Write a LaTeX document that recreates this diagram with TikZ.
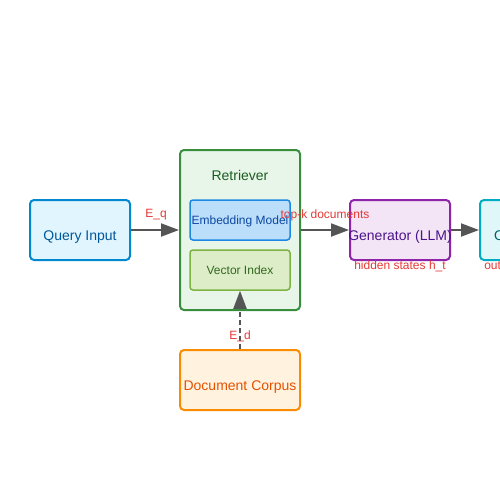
\documentclass[tikz,border=0pt]{standalone}
\usepackage{fontspec}
\setmainfont{Liberation Sans}
\definecolor{queryfill}{HTML}{E1F5FE}
\definecolor{querydraw}{HTML}{0288D1}
\definecolor{querytext}{HTML}{01579B}
\definecolor{retrfill}{HTML}{E8F5E9}
\definecolor{retrdraw}{HTML}{388E3C}
\definecolor{retrtext}{HTML}{1B5E20}
\definecolor{embfill}{HTML}{BBDEFB}
\definecolor{embdraw}{HTML}{1E88E5}
\definecolor{embtext}{HTML}{0D47A1}
\definecolor{vecfill}{HTML}{DCEDC8}
\definecolor{vecdraw}{HTML}{7CB342}
\definecolor{vectext}{HTML}{33691E}
\definecolor{corpfill}{HTML}{FFF3E0}
\definecolor{corpdraw}{HTML}{FB8C00}
\definecolor{corptext}{HTML}{E65100}
\definecolor{genfill}{HTML}{F3E5F5}
\definecolor{gendraw}{HTML}{8E24AA}
\definecolor{gentext}{HTML}{4A148C}
\definecolor{outfill}{HTML}{E0F7FA}
\definecolor{outdraw}{HTML}{00ACC1}
\definecolor{outtext}{HTML}{006064}
\definecolor{arrowgray}{HTML}{555555}
\definecolor{labelred}{HTML}{E53935}
\usetikzlibrary{arrows.meta, positioning}

\begin{document}
\begin{tikzpicture}[x=1pt, y=-1pt,
  box/.style={draw, line width=2pt, rounded corners=4pt, minimum width=100pt, minimum height=60pt,
    inner sep=0pt, text height=20pt, text depth=0pt, font=\fontsize{14}{16}\selectfont},
  subbox/.style={draw, line width=1.5pt, rounded corners=3pt, minimum width=100pt, minimum height=40pt,
    inner sep=0pt, text height=8.5pt, text depth=0pt, font=\fontsize{12}{14}\selectfont},
  flow/.style={draw=arrowgray, line width=2pt, -{Triangle[length=18pt, width=13pt]}},
  edgelabel/.style={text=labelred, inner sep=0pt, font=\fontsize{12}{14}\selectfont}]
  \clip (0,0) rectangle (500,500);
  \useasboundingbox (0,0) rectangle (500,500);

  % Retriever with its two parts
  \node[box, draw=retrdraw, fill=retrfill, minimum width=120pt, minimum height=160pt] (retriever) at (240,230) {};
  \node[text=retrtext, font=\fontsize{14}{16}\selectfont] (retrtitle) at (240,175) {Retriever};
  \node[subbox, draw=embdraw, fill=embfill, text=embtext] (embed) at (240,220) {\makebox[0pt]{Embedding Model}};
  \node[subbox, draw=vecdraw, fill=vecfill, text=vectext] (vindex) at (240,270) {Vector Index};

  % Other blocks
  \node[box, draw=querydraw, fill=queryfill, text=querytext] (query) at (80,230) {Query Input};
  \node[box, draw=corpdraw, fill=corpfill, text=corptext, minimum width=120pt] (corpus) at (240,380) {Document Corpus};
  \node[box, draw=gendraw, fill=genfill, text=gentext] (generator) at (400,230) {\makebox[0pt]{Generator (LLM)}};
  \node[box, draw=outdraw, fill=outfill, text=outtext] (output) at (530,230) {\makebox[0pt]{Output Text}};

  % Connectors
  \draw[flow] (query.east) -- (retriever.west);
  \draw[flow] (retriever.east) -- (generator.west);
  \draw[flow] (generator.east) -- (output.west);
  \draw[flow, dash pattern=on 5pt off 3pt] (corpus.north) -- (vindex.south);

  % Labels
  \node[edgelabel] (eq) at (156,215) {E\_q};
  \node[edgelabel] (topk) at (325,215) {top-k documents};
  \node[edgelabel] (ed) at (240,336) {E\_d};
  \node[edgelabel] (hidden) at (400,266) {hidden states h\_t};
  \node[edgelabel] (outlabel) at (530,266) {output tokens y\_t};
\end{tikzpicture}
\end{document}
